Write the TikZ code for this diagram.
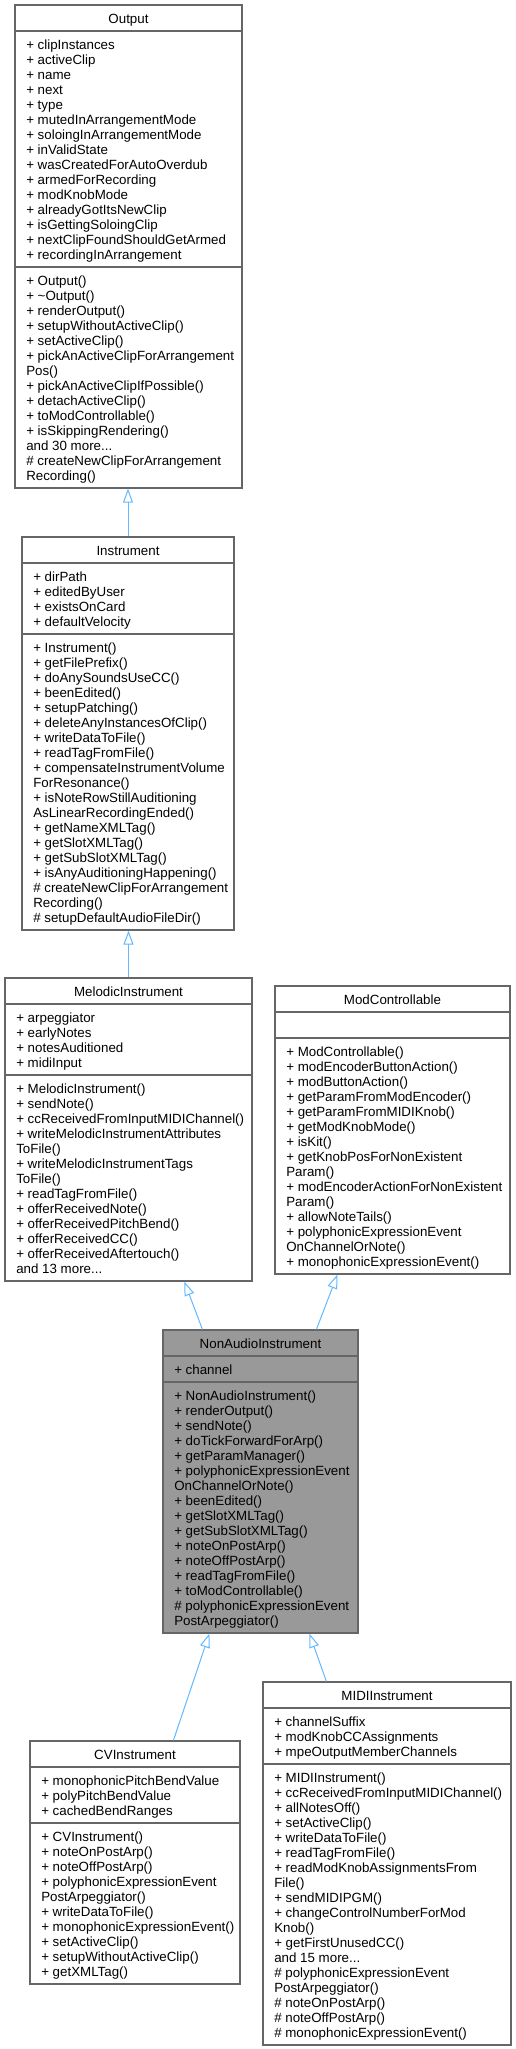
\documentclass[tikz,border=0pt]{standalone}
\usepackage{fontspec}
\setmainfont{Liberation Sans}
\usetikzlibrary{arrows.meta,fit,calc}
\definecolor{boxgray}{HTML}{666666}
\definecolor{nagray}{HTML}{999999}
\definecolor{edgeblue}{HTML}{63B8FF}
\newcommand\andmore[1]{and #1 more...}
\tikzset{
  classbox/.style={draw=boxgray, line width=0.9pt, inner sep=0pt, fill=white},
  sepline/.style={draw=boxgray, line width=0.9pt},
  txt/.style={inner sep=0pt, anchor=base west, font=\fontsize{10pt}{11.25pt}\selectfont},
  ttl/.style={inner sep=0pt, anchor=base, font=\fontsize{10pt}{11.25pt}\selectfont},
  inh/.style={draw=edgeblue, line width=0.75pt, -{Triangle[open, length=10.5pt, width=7.5pt, line width=0.75pt]}}
}
% #1 name, #2 left, #3 top, #4 right, #5 sep1, #6 sep2, #7 bottom, #8 extra style
\newcommand\umlbox[8]{%
  \node[classbox, #8, fit={(#2,#3) (#4,#7)}] (#1) {};
  \draw[sepline] (#1.west |- 0,#5) -- (#1.east |- 0,#5);
  \draw[sepline] (#1.west |- 0,#6) -- (#1.east |- 0,#6);
}
% #1 prefix, #2 x, #3 first baseline, #4 list
\newcommand\umllines[4]{%
  \foreach \t [count=\i from 0] in {#4} {
    \node[txt] (#1-\i) at (#2, #3+15*\i) {\t};
  }
}
\begin{document}
\begin{tikzpicture}[x=0.75pt,y=-0.75pt]
\useasboundingbox (0,0) rectangle (516,2049);

% ---------- Output ----------
\umlbox{output}{15}{5}{242}{31}{267}{488}{}
\node[ttl] (output-t) at (128.5,23) {Output};
\umllines{output-a}{26}{49}{+ clipInstances, + activeClip, + name, + next, + type,
  + mutedInArrangementMode, + soloingInArrangementMode, + inValidState,
  + wasCreatedForAutoOverdub, + armedForRecording, + modKnobMode,
  + alreadyGotItsNewClip, + isGettingSoloingClip, + nextClipFoundShouldGetArmed,
  + recordingInArrangement}
\umllines{output-m}{26}{285}{+ Output(), + \textasciitilde Output(), + renderOutput(),
  + setupWithoutActiveClip(), + setActiveClip(), + pickAnActiveClipForArrangement,
  Pos(), + pickAnActiveClipIfPossible(), + detachActiveClip(), + toModControllable(),
  + isSkippingRendering(), \andmore{30}, \# createNewClipForArrangement, Recording()}

% ---------- Instrument ----------
\umlbox{instrument}{22}{537}{234}{563}{634}{930}{}
\node[ttl] (instrument-t) at (128,555) {Instrument};
\umllines{instrument-a}{33}{581}{+ dirPath, + editedByUser, + existsOnCard, + defaultVelocity}
\umllines{instrument-m}{33}{652}{+ Instrument(), + getFilePrefix(), + doAnySoundsUseCC(),
  + beenEdited(), + setupPatching(), + deleteAnyInstancesOfClip(), + writeDataToFile(),
  + readTagFromFile(), + compensateInstrumentVolume, ForResonance(),
  + isNoteRowStillAuditioning, AsLinearRecordingEnded(), + getNameXMLTag(),
  + getSlotXMLTag(), + getSubSlotXMLTag(), + isAnyAuditioningHappening(),
  \# createNewClipForArrangement, Recording(), \# setupDefaultAudioFileDir()}

% ---------- MelodicInstrument ----------
\umlbox{melodic}{5}{978}{252}{1004}{1075}{1281}{}
\node[ttl] (melodic-t) at (128.5,996) {MelodicInstrument};
\umllines{melodic-a}{16}{1022}{+ arpeggiator, + earlyNotes, + notesAuditioned, + midiInput}
\umllines{melodic-m}{16}{1093}{+ MelodicInstrument(), + sendNote(),
  + ccReceivedFromInputMIDIChannel(), + writeMelodicInstrumentAttributes, ToFile(),
  + writeMelodicInstrumentTags, ToFile(), + readTagFromFile(), + offerReceivedNote(),
  + offerReceivedPitchBend(), + offerReceivedCC(), + offerReceivedAftertouch(),
  \andmore{13}}

% ---------- ModControllable ----------
\umlbox{modctrl}{275}{986}{510}{1012}{1038}{1274}{}
\node[ttl] (modctrl-t) at (392.5,1004) {ModControllable};
\umllines{modctrl-m}{286}{1056}{+ ModControllable(), + modEncoderButtonAction(),
  + modButtonAction(), + getParamFromModEncoder(), + getParamFromMIDIKnob(),
  + getModKnobMode(), + isKit(), + getKnobPosForNonExistent, Param(),
  + modEncoderActionForNonExistent, Param(), + allowNoteTails(),
  + polyphonicExpressionEvent, OnChannelOrNote(), + monophonicExpressionEvent()}

% ---------- NonAudioInstrument ----------
\umlbox{nonaudio}{163}{1330}{358}{1356}{1382}{1633}{fill=nagray}
\node[ttl] (nonaudio-t) at (260.5,1348) {NonAudioInstrument};
\umllines{nonaudio-a}{174}{1374}{+ channel}
\umllines{nonaudio-m}{174}{1400}{+ NonAudioInstrument(), + renderOutput(), + sendNote(),
  + doTickForwardForArp(), + getParamManager(), + polyphonicExpressionEvent,
  OnChannelOrNote(), + beenEdited(), + getSlotXMLTag(), + getSubSlotXMLTag(),
  + noteOnPostArp(), + noteOffPostArp(), + readTagFromFile(), + toModControllable(),
  \# polyphonicExpressionEvent, PostArpeggiator()}

% ---------- CVInstrument ----------
\umlbox{cv}{30}{1741}{240}{1767}{1823}{1984}{}
\node[ttl] (cv-t) at (135,1759) {CVInstrument};
\umllines{cv-a}{41}{1785}{+ monophonicPitchBendValue, + polyPitchBendValue, + cachedBendRanges}
\umllines{cv-m}{41}{1841}{+ CVInstrument(), + noteOnPostArp(), + noteOffPostArp(),
  + polyphonicExpressionEvent, PostArpeggiator(), + writeDataToFile(),
  + monophonicExpressionEvent(), + setActiveClip(), + setupWithoutActiveClip(),
  + getXMLTag()}

% ---------- MIDIInstrument ----------
\umlbox{midi}{263}{1682}{511}{1708}{1764}{2045}{}
\node[ttl] (midi-t) at (387,1700) {MIDIInstrument};
\umllines{midi-a}{274}{1726}{+ channelSuffix, + modKnobCCAssignments, + mpeOutputMemberChannels}
\umllines{midi-m}{274}{1782}{+ MIDIInstrument(), + ccReceivedFromInputMIDIChannel(),
  + allNotesOff(), + setActiveClip(), + writeDataToFile(), + readTagFromFile(),
  + readModKnobAssignmentsFrom, File(), + sendMIDIPGM(), + changeControlNumberForMod,
  Knob(), + getFirstUnusedCC(), \andmore{15}, \# polyphonicExpressionEvent,
  PostArpeggiator(), \# noteOnPostArp(), \# noteOffPostArp(), \# monophonicExpressionEvent()}

% ---------- inheritance connectors ----------
\draw[inh] (instrument.north) -- (instrument.north |- output.south);
\draw[inh] (melodic.north) -- (melodic.north |- instrument.south);
\draw[inh] ($(nonaudio.north west)+(40,0)$) -- ($(melodic.south west)+(180,0)$);
\draw[inh] ($(nonaudio.north west)+(154,0)$) -- ($(modctrl.south west)+(63,0)$);
\draw[inh] ($(cv.north west)+(144,0)$) -- ($(nonaudio.south west)+(47,0)$);
\draw[inh] ($(midi.north west)+(64,0)$) -- ($(nonaudio.south west)+(147,0)$);
\end{tikzpicture}
\end{document}
